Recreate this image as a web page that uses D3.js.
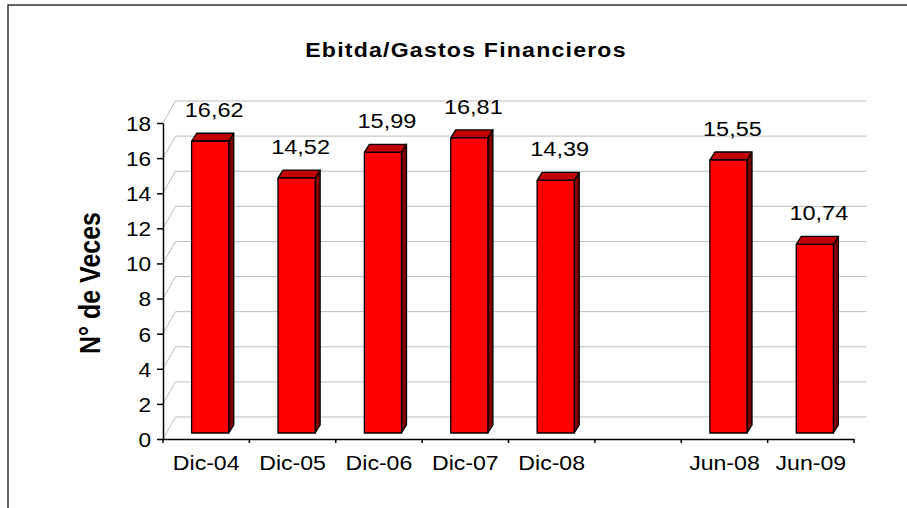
<!DOCTYPE html>
<html>
<head>
<meta charset="utf-8">
<script src="https://cdn.jsdelivr.net/npm/d3@7"></script>
<style>
  body { margin: 0; background: #fff; }
  text { font-family: "Liberation Sans", Arial, sans-serif; fill: #000; }
</style>
</head>
<body>
<svg></svg>
<script>
var width = 907,
    height = 508;

// data
var categories = ["Dic-04", "Dic-05", "Dic-06", "Dic-07", "Dic-08", "", "Jun-08", "Jun-09"];
var values = [16.62, 14.52, 15.99, 16.81, 14.39, null, 15.55, 10.74];
var yTicks = [0, 2, 4, 6, 8, 10, 12, 14, 16, 18];
var title = "Ebitda/Gastos Financieros",
    yTitle = "N° de Veces";

// 3d offsets (oblique projection)
var wall = [12.5, -22],   // back wall relative to axis plane
    front = [4, -6],      // bar front face relative to axis plane
    depth = [5, -8];      // bar depth

var left = 163, right = 854, zeroY = 439, topY = 123;

var svg = d3.select("svg")
    .attr("width", width)
    .attr("height", height);

// outer frame (runs off the picture on the right and bottom)
svg.append("rect")
    .attr("x", 8).attr("y", 5)
    .attr("width", 1000).attr("height", 600)
    .attr("fill", "none")
    .attr("stroke", "#222")
    .attr("stroke-width", 1.4);

var x = d3.scaleBand()
    .domain(d3.range(categories.length))
    .range([left, right]);

var y = d3.scaleLinear()
    .domain([0, 18])
    .range([zeroY, topY]);

var fmt = v => d3.format(".2f")(v).replace(".", ",");

// gridlines on the side wall and back wall
var grid = svg.append("g").attr("stroke", "#bdbdbd").attr("stroke-width", 1).attr("fill", "none");
grid.selectAll(".diag")
    .data(yTicks)
    .enter().append("line")
    .attr("x1", left).attr("y1", d => y(d))
    .attr("x2", left + wall[0]).attr("y2", d => y(d) + wall[1]);
grid.selectAll(".back")
    .data(yTicks)
    .enter().append("line")
    .attr("x1", left + wall[0]).attr("y1", d => y(d) + wall[1])
    .attr("x2", right + wall[0]).attr("y2", d => y(d) + wall[1]);

// y axis
var yAxis = svg.append("g")
    .attr("transform", "translate(" + left + ",0)")
    .call(d3.axisLeft(y).tickValues(yTicks).tickSize(6).tickSizeOuter(0).tickPadding(0));
yAxis.select(".domain").attr("stroke", "#000").attr("stroke-width", 1.5);
yAxis.selectAll(".tick line").attr("stroke", "#000").attr("stroke-width", 1.5);
yAxis.selectAll(".tick text")
    .attr("x", -11)
    .attr("dy", "0.35em")
    .attr("transform", "scale(1.08,1)")
    .style("font-size", "21px")
    .style("font-family", "'Liberation Sans', Arial, sans-serif");

// x axis: labels from axis, ticks at category boundaries
var xAxis = svg.append("g")
    .attr("transform", "translate(0," + zeroY + ")")
    .call(d3.axisBottom(x).tickFormat(i => categories[i]).tickSize(0).tickSizeOuter(0).tickPadding(0));
xAxis.select(".domain").attr("stroke", "#000").attr("stroke-width", 1.5);
xAxis.selectAll(".tick text")
    .attr("y", 31)
    .attr("dy", 0)
    .attr("transform", "scale(1.1,1)")
    .style("font-size", "21px")
    .style("font-family", "'Liberation Sans', Arial, sans-serif");

var bounds = x.domain().map(i => x(i)).concat([right]);
xAxis.selectAll(".bound")
    .data(bounds)
    .enter().append("line")
    .attr("x1", d => d).attr("x2", d => d)
    .attr("y1", 0).attr("y2", 4)
    .attr("stroke", "#000").attr("stroke-width", 1.5);

// bars
var bw = x.bandwidth() * 0.43;
var bars = values.map((v, i) => ({ i: i, v: v })).filter(d => d.v != null);

var barG = svg.append("g")
    .attr("stroke", "#000")
    .attr("stroke-width", 1.3)
    .attr("stroke-linejoin", "round");

function fx(d) { return x(d.i) + x.bandwidth() / 2 - bw / 2 + front[0]; }
function ftop(d) { return y(d.v) + front[1]; }
var fbot = y(0) + front[1];

barG.selectAll(".side")
    .data(bars)
    .enter().append("path")
    .attr("fill", "#800000")
    .attr("d", d => {
        var xr = fx(d) + bw, t = ftop(d);
        return "M" + [xr, t] + "L" + [xr + depth[0], t + depth[1]] +
            "L" + [xr + depth[0], fbot + depth[1]] + "L" + [xr, fbot] + "Z";
    });

barG.selectAll(".top")
    .data(bars)
    .enter().append("path")
    .attr("fill", "#c00000")
    .attr("d", d => {
        var xl = fx(d), t = ftop(d);
        return "M" + [xl, t] + "L" + [xl + bw, t] + "L" + [xl + bw + depth[0], t + depth[1]] +
            "L" + [xl + depth[0], t + depth[1]] + "Z";
    });

barG.selectAll(".front")
    .data(bars)
    .enter().append("rect")
    .attr("fill", "#ff0000")
    .attr("x", fx)
    .attr("y", ftop)
    .attr("width", bw)
    .attr("height", d => fbot - ftop(d));

// value labels
svg.selectAll(".val")
    .data(bars)
    .enter().append("text")
    .attr("text-anchor", "middle")
    .attr("transform", d => "translate(" + [fx(d) + bw / 2 + 4, ftop(d) - 24] + ") scale(1.12,1)")
    .style("font-size", "21px")
    .text(d => fmt(d.v));

// titles
svg.append("text")
    .attr("text-anchor", "middle")
    .attr("transform", "translate(466,57) scale(1.1,1)")
    .style("font-size", "21px")
    .style("font-weight", "bold")
    .style("letter-spacing", "1.1px")
    .text(title);

svg.append("text")
    .attr("text-anchor", "middle")
    .attr("transform", "translate(100,283) scale(1.15,1) rotate(-90)")
    .style("font-size", "25px")
    .style("font-weight", "bold")
    .text(yTitle);
</script>
</body>
</html>
